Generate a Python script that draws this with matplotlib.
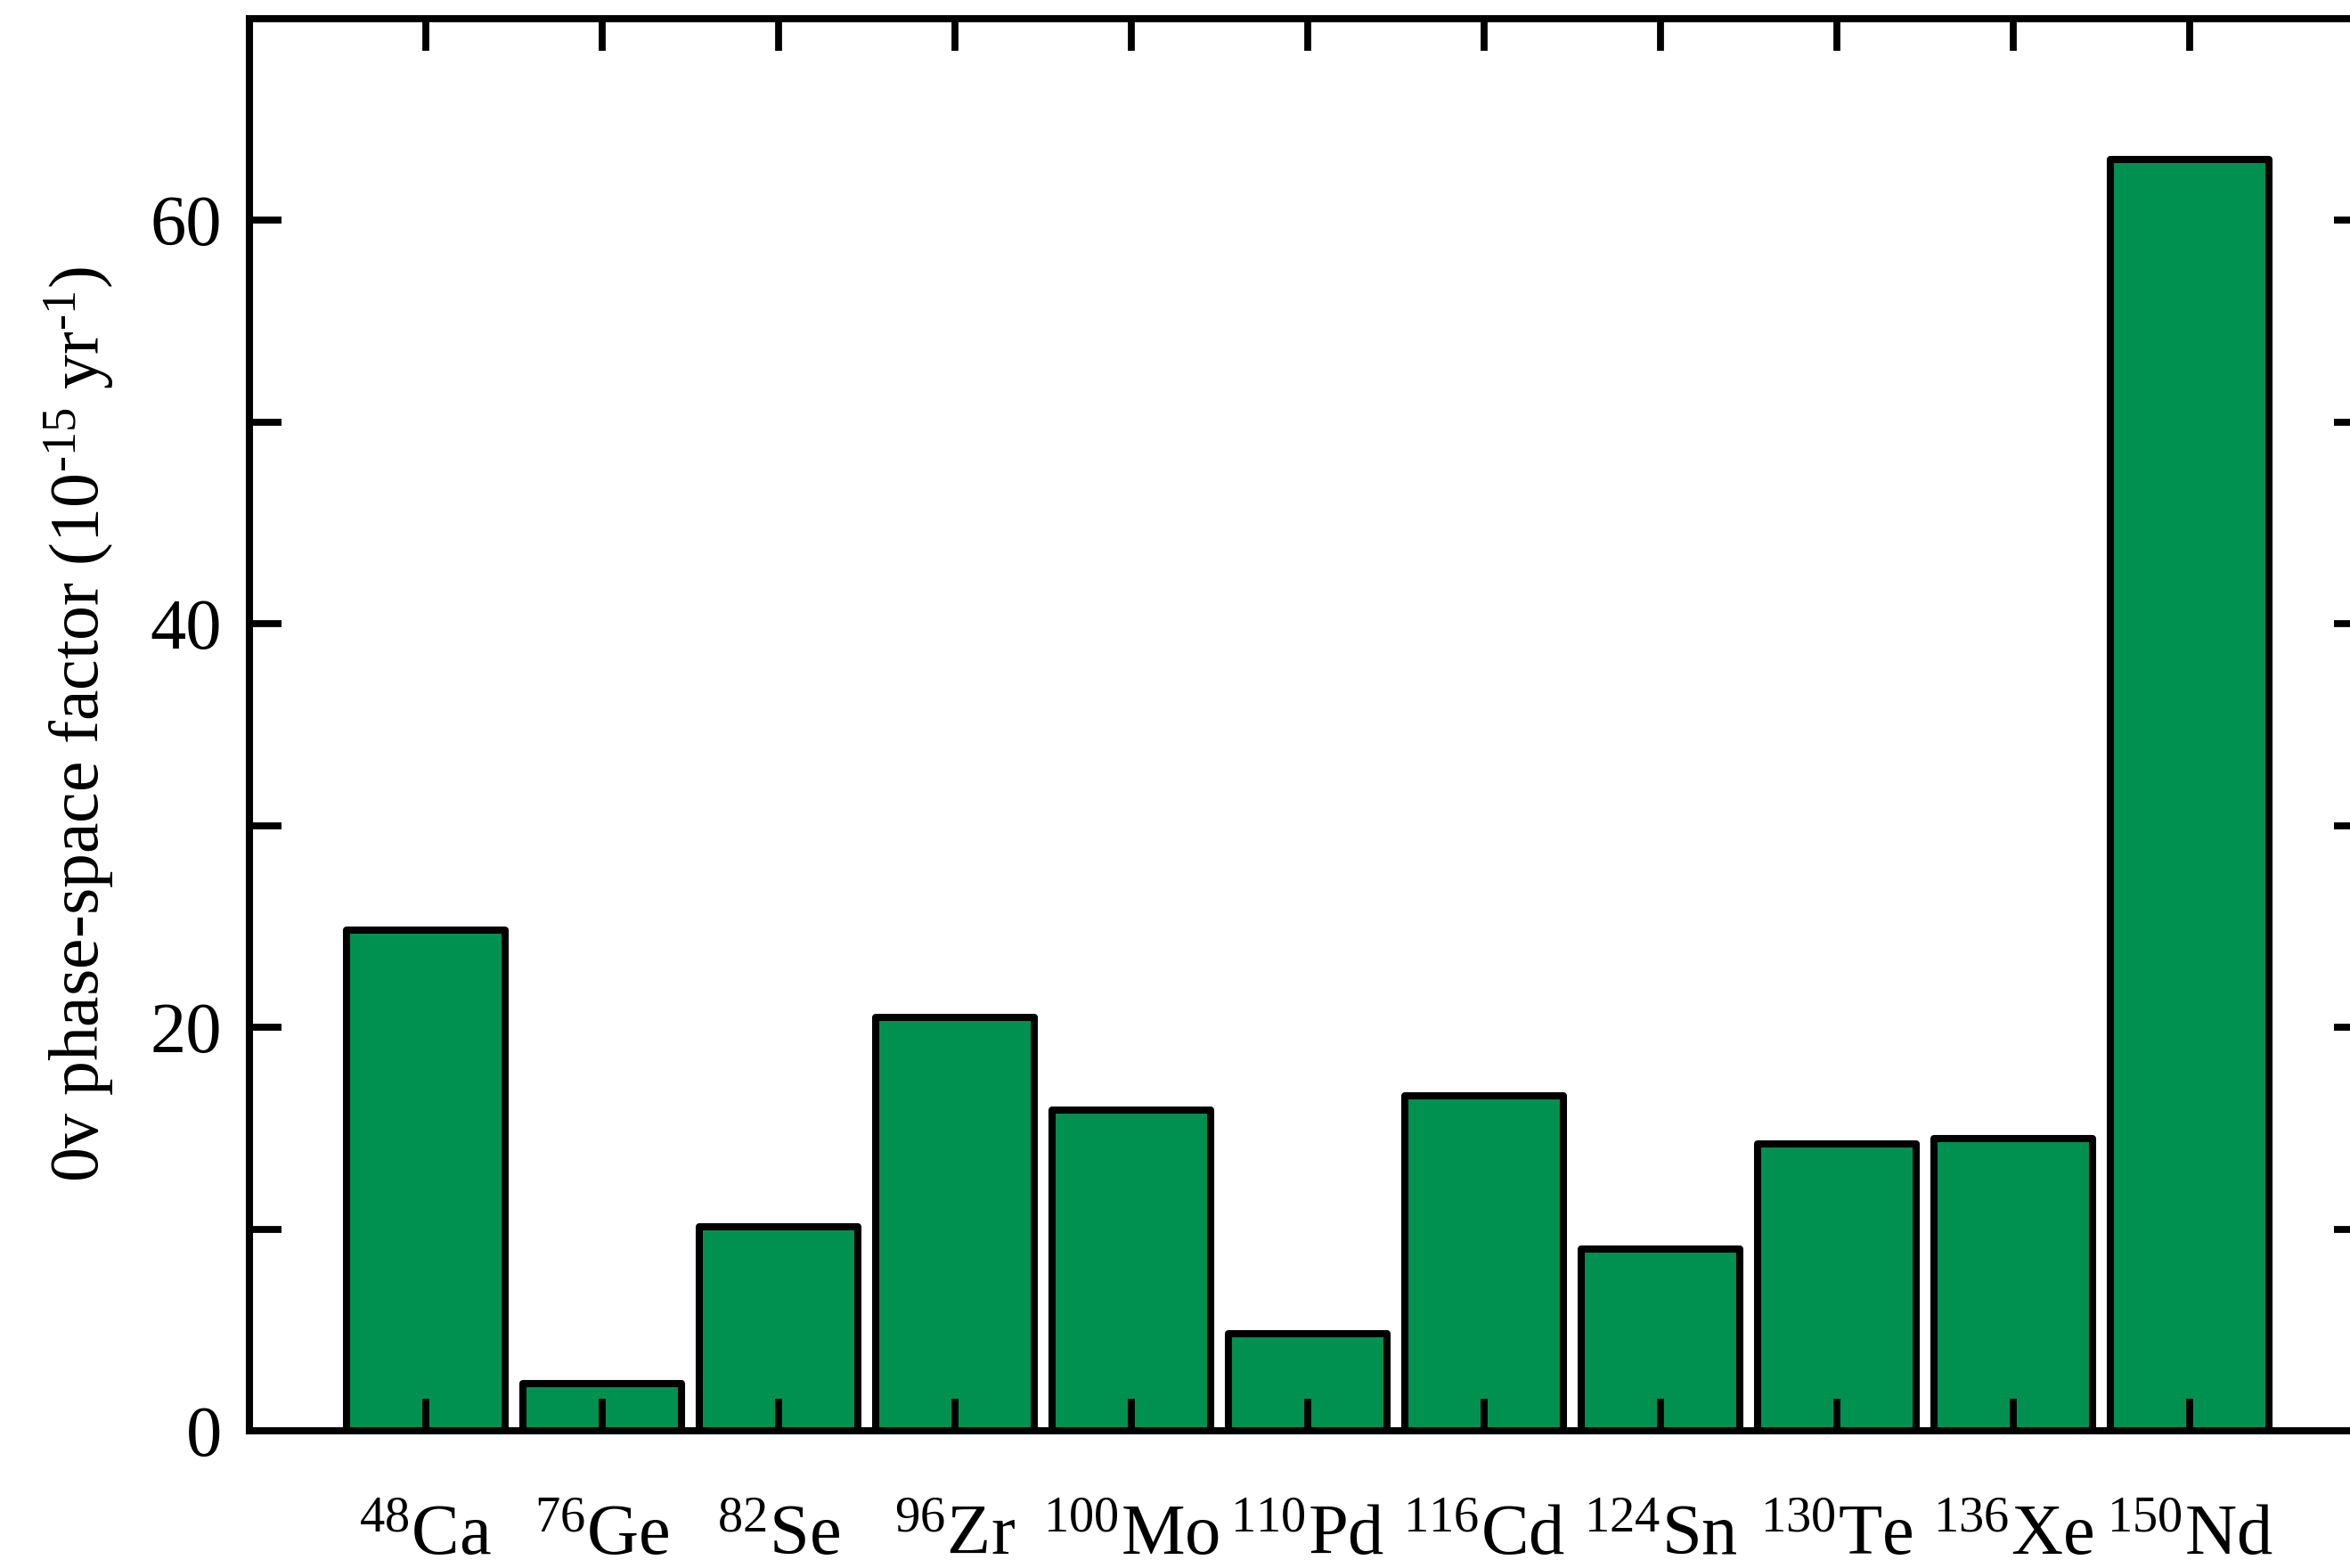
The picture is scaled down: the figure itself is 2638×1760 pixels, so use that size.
import matplotlib
matplotlib.use("Agg")
import matplotlib.pyplot as plt
from matplotlib.ticker import MultipleLocator

# 0v double-beta decay phase-space factors
isotopes = ["Ca", "Ge", "Se", "Zr", "Mo", "Pd", "Cd", "Sn", "Te", "Xe", "Nd"]
mass_numbers = [48, 76, 82, 96, 100, 110, 116, 124, 130, 136, 150]
phase_space = [24.8, 2.35, 10.1, 20.5, 15.9, 4.8, 16.6, 9.0, 14.2, 14.5, 63.0]

plt.rcParams['font.family'] = ['Liberation Serif', 'DejaVu Serif']
plt.rcParams['mathtext.fontset'] = 'custom'
plt.rcParams['mathtext.rm'] = 'Liberation Serif'
plt.rcParams['mathtext.it'] = 'Liberation Serif:italic'

fig = plt.figure(figsize=(13.19, 8.8), dpi=200)
ax = fig.add_axes([0.1061, 0.0875, 0.9007, 0.9006])

x = list(range(1, len(isotopes) + 1))
ax.bar(x, phase_space, width=0.9, color="#009150", edgecolor="black",
       linewidth=2.9, joinstyle="round", zorder=1)

ax.set_xlim(0, 12)
ax.set_ylim(0, 70)

labels = [r"$^{%d}$%s" % (a, s) for a, s in zip(mass_numbers, isotopes)]
ax.set_xticks(x)
ax.set_xticklabels(labels, fontsize=29)
ax.yaxis.set_major_locator(MultipleLocator(20))
ax.yaxis.set_minor_locator(MultipleLocator(10))
ax.tick_params(axis="both", which="both", direction="in", length=13, width=2.8,
               top=True, right=True, zorder=3)
ax.tick_params(axis="x", pad=30)
ax.tick_params(axis="y", labelsize=29, pad=11)
ax.tick_params(axis="x", which="minor", bottom=False, top=False)

for sp in ax.spines.values():
    sp.set_linewidth(2.9)
    sp.set_zorder(4)

ax.set_ylabel(r"0v phase-space factor (10$^{\text{-15}}$ yr$^{\text{-1}}$)", fontsize=28,
              labelpad=14)

fig.savefig("out.png", dpi=200)
